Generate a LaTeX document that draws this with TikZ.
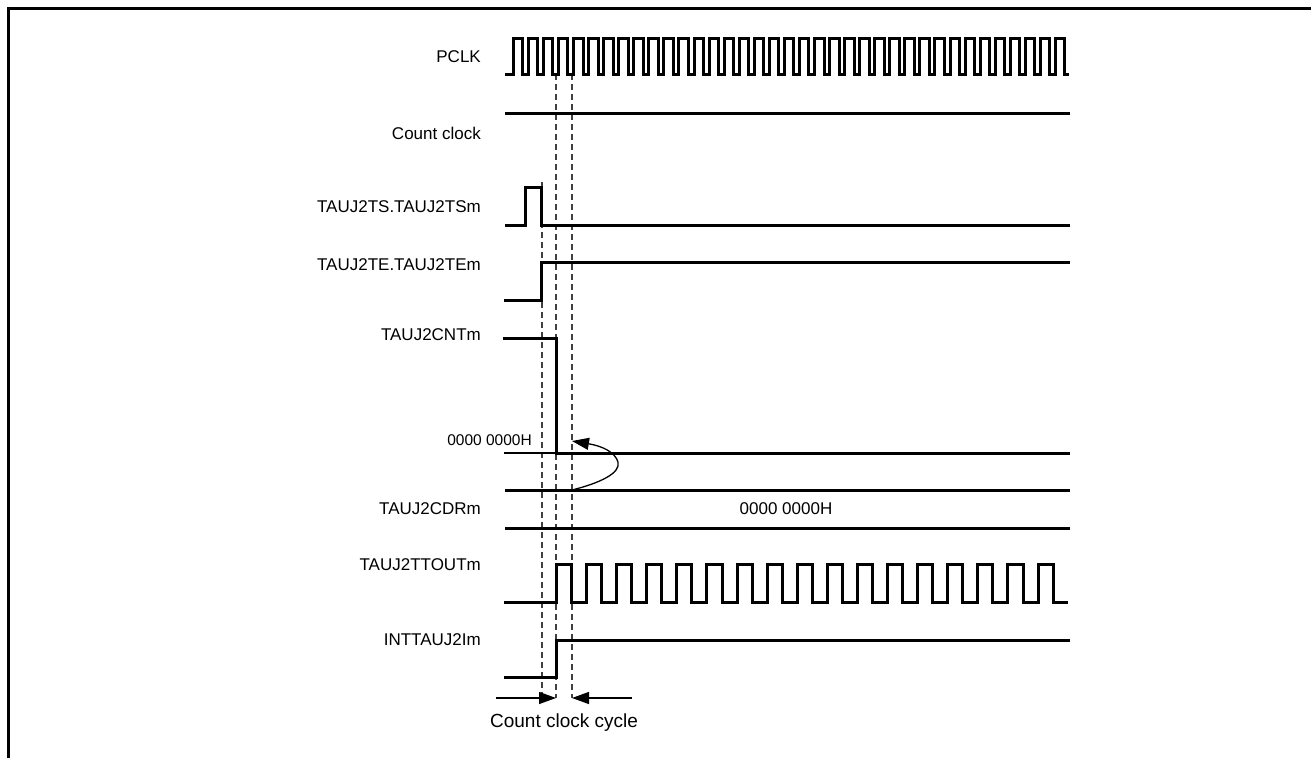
\documentclass[tikz,border=0pt]{standalone}
\usepackage{fontspec}
\setmainfont{Liberation Sans}
\usetikzlibrary{arrows.meta}
\begin{document}
\begin{tikzpicture}[x=1bp,y=-1bp,
  wave/.style={line width=3bp, line join=miter},
  thinline/.style={line width=1.3bp},
  guide/.style={line width=1.6bp, dash pattern=on 6bp off 4bp, black!75},
  lbl/.style={anchor=east, font=\fontsize{17bp}{20bp}\selectfont, inner sep=0pt},
  small/.style={anchor=east, font=\fontsize{15.5bp}{18bp}\selectfont, inner sep=0pt},
  tip/.style={-{Triangle[length=17bp,width=12bp]}}
]
\useasboundingbox (0,0) rectangle (1311,758);
\draw[line width=3bp] (8,758) -- (8,9) -- (1311,9);

% guides
\draw[guide] (542,182) -- (542,698);
\draw[guide] (556,74) -- (556,698);
\draw[guide] (572,74) -- (572,698);

% labels
\node[lbl] (lpclk) at (481,57) {PCLK};
\node[lbl] (lcc) at (481,133) {Count clock};
\node[lbl] (lts) at (481,207) {TAUJ2TS.TAUJ2TSm};
\node[lbl] (lte) at (481,265) {TAUJ2TE.TAUJ2TEm};
\node[lbl] (lcnt) at (481,335) {TAUJ2CNTm};
\node[lbl] (lcdr) at (481,509) {TAUJ2CDRm};
\node[lbl] (lto) at (481,565) {TAUJ2TTOUTm};
\node[lbl] (lint) at (481,640) {INTTAUJ2Im};
\node[small] (lzero) at (532,440) {0000 0000H};
\node[lbl, anchor=center] (vcdr) at (786,509) {0000 0000H};
\node[lbl, anchor=center, font=\fontsize{19bp}{22bp}\selectfont] (lcyc) at (564,723) {Count clock cycle};

% PCLK
\draw[wave] (505,74) \foreach \k in {0,...,36} { -- ({513.3+15.06*\k},74) -- ++(0,-35) -- ++(9.5,0) -- ++(0,35) } -- (1069,74);
% Count clock
\draw[wave] (505,113) -- (1070,113);
% TS
\draw[wave] (505,225) -- (525.7,225) -- (525.7,187) -- (541.7,187) -- (541.7,225) -- (1070,225);
% TE
\draw[wave] (504,300.7) -- (541.7,300.7) -- (541.7,262.7) -- (1070,262.7);
% CNT
\draw[thinline] (504,453) -- (556,453);
\draw[wave] (503,338.3) -- (556,338.3) -- (556,453) -- (1070,453);
% CDR
\draw[wave] (505,490) -- (1070,490);
\draw[wave] (505,528) -- (1070,528);
% TTOUT
\draw[wave] (504,602) -- (556,602) -- (556,564) -- (571.5,564) -- (571.5,602)
  \foreach \k in {1,...,16} { -- ({571.5+30.1*\k-15.1},602) -- ++(0,-38) -- ({571.5+30.1*\k},564) -- ++(0,38) } -- (1068,602);
% INT
\draw[wave] (504,677) -- (556,677) -- (556,640) -- (1070,640);

% curved arrow
\coordinate (cs) at (572,490);
\coordinate (ce) at (572,441);
\draw[thinline, -{Triangle[length=17bp,width=12bp]}] (cs) .. controls (600,483) and (621,473) .. (618,462) .. controls (615,452) and (602,446) .. (ce);

% cycle arrows
\coordinate (a1) at (496,698);
\coordinate (a2) at (556,698);
\coordinate (b1) at (632,698);
\coordinate (b2) at (572,698);
\draw[thinline, tip] (a1) -- (a2);
\draw[thinline, tip] (b1) -- (b2);
\end{tikzpicture}
\end{document}
